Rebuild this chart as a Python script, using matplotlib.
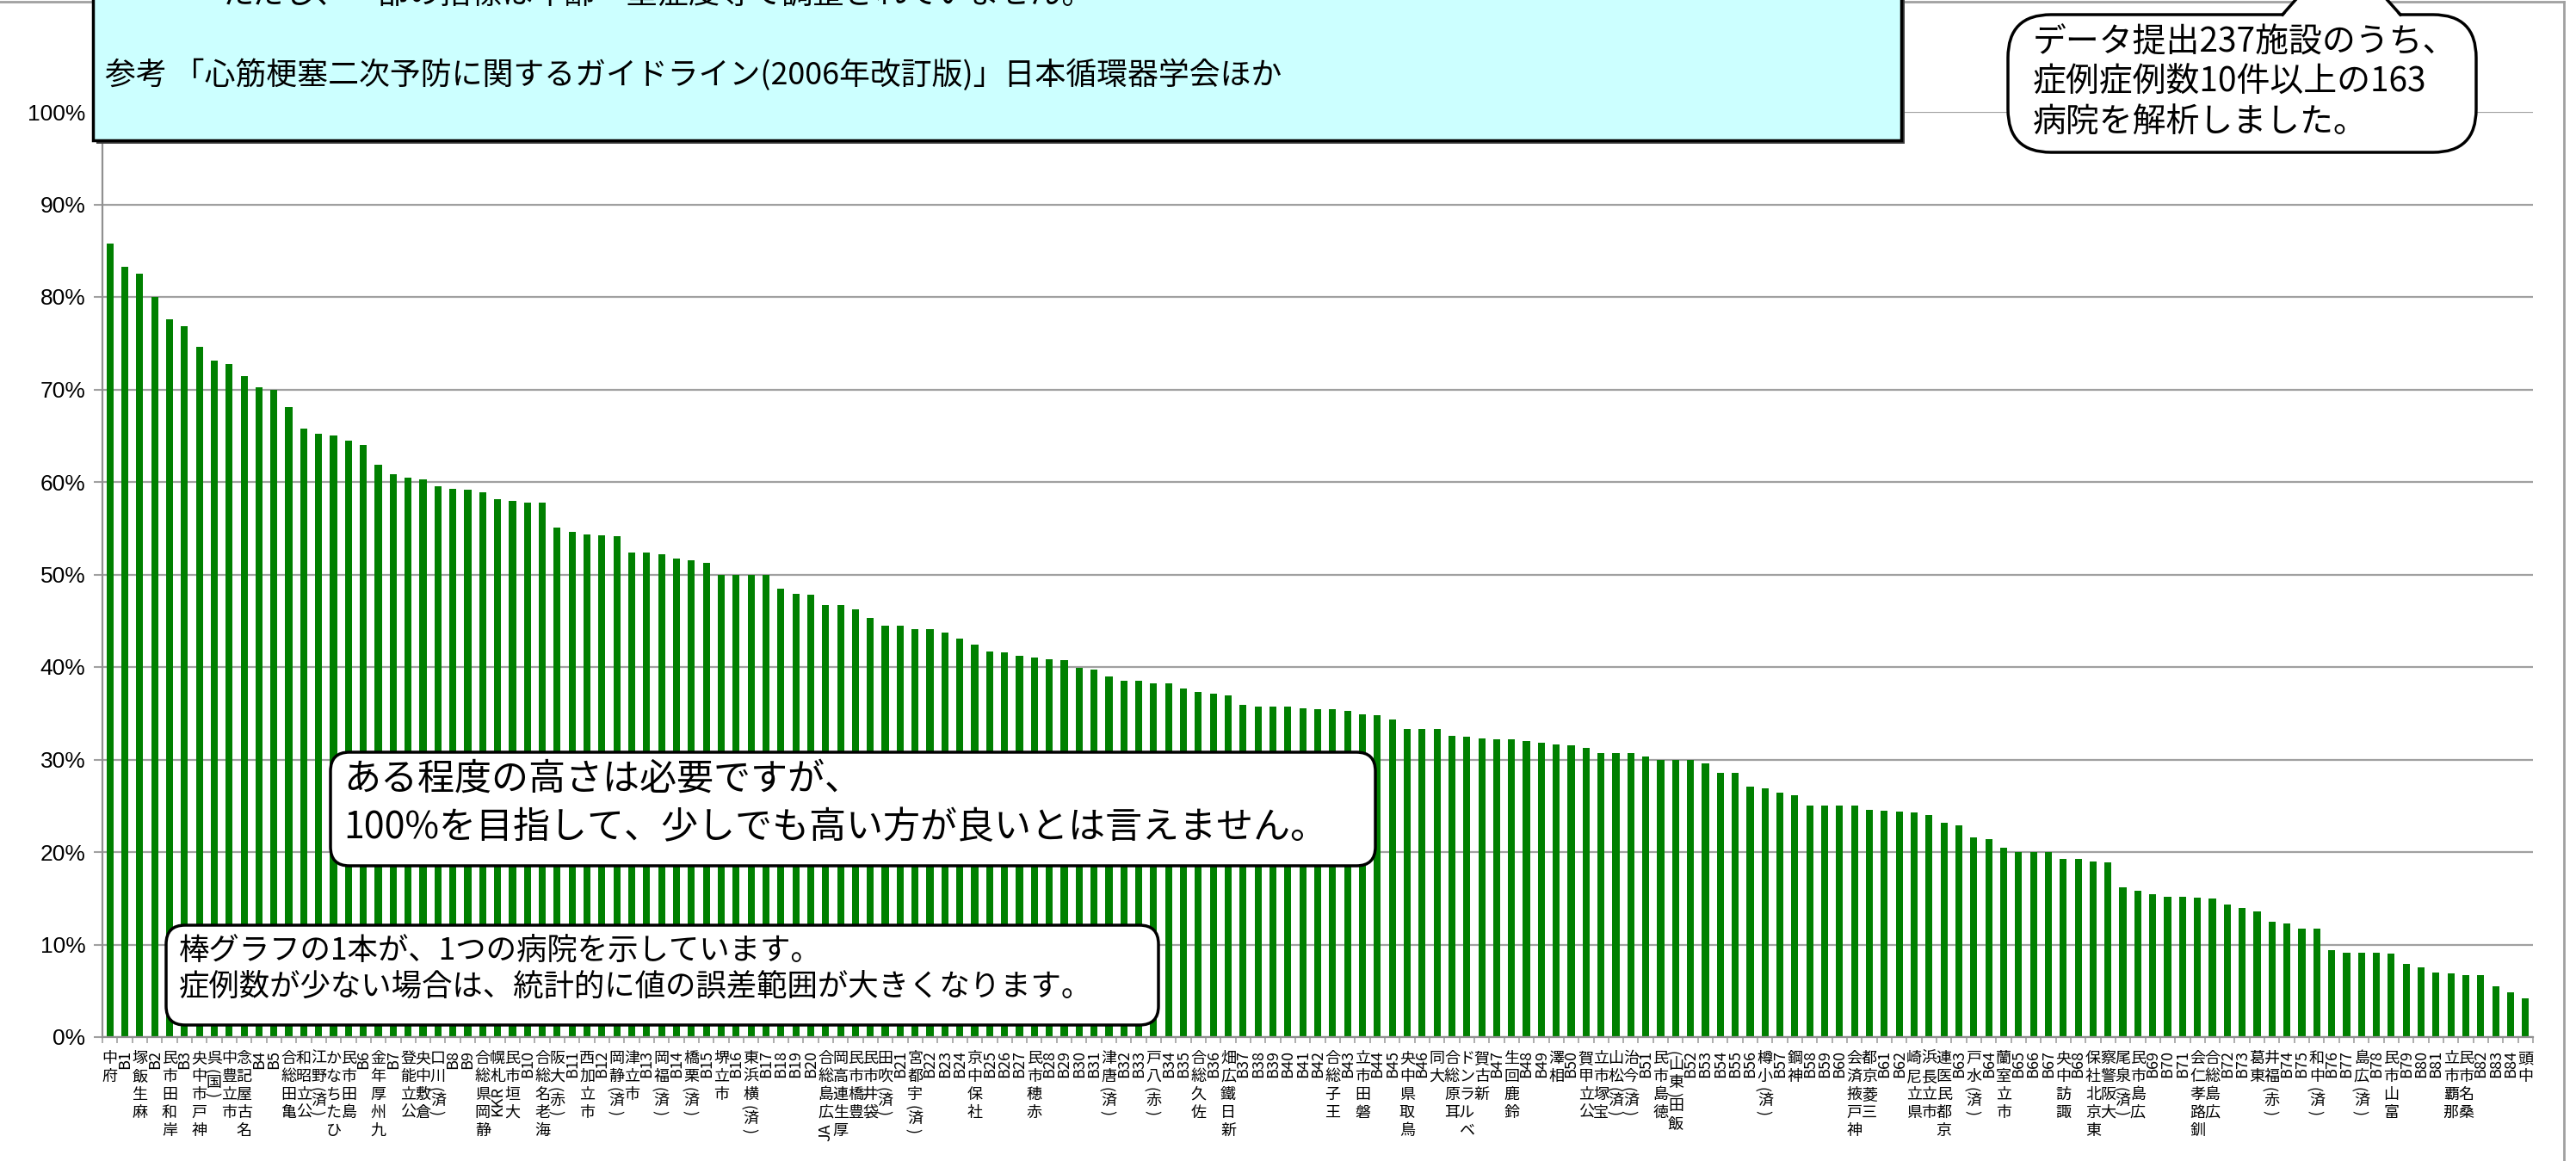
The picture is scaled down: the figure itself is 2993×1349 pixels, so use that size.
import matplotlib

matplotlib.use("Agg")
import matplotlib.pyplot as plt
import numpy as np
from matplotlib.lines import Line2D
from matplotlib.patches import FancyBboxPatch, Polygon, Rectangle
from matplotlib.transforms import IdentityTransform, offset_copy

plt.rcParams["font.family"] = ["Noto Sans CJK JP", "DejaVu Sans"]

# --- data ------------------------------------------------------------------
hospitals = [
    "府中", "B1", "麻生飯塚", "B2", "岸和田市民", "B3", "神戸市中央", "(国)呉", "市立豊中", "名古屋記念",
    "B4", "B5", "亀田総合", "公立昭和", "(済)野江", "ひたちなか", "島田市民", "B6", "九州厚年金", "B7",
    "公立能登", "倉敷中央", "(済)川口", "B8", "B9", "静岡県総合", "KKR札幌", "大垣市民", "B10", "海老名総合",
    "(赤)大阪", "B11", "市立加西", "B12", "(済)静岡", "市立津", "B13", "(済)福岡", "B14", "(済)栗橋",
    "B15", "市立堺", "B16", "(済)横浜東", "B17", "B18", "B19", "B20", "JA広島総合", "厚生連高岡",
    "豊橋市民", "袋井市民", "(済)吹田", "B21", "(済)宇都宮", "B22", "B23", "B24", "社保中京", "B25",
    "B26", "B27", "赤穂市民", "B28", "B29", "B30", "B31", "(済)唐津", "B32", "B33",
    "(赤)八戸", "B34", "B35", "佐久総合", "B36", "新日鐵広畑", "B37", "B38", "B39", "B40",
    "B41", "B42", "王子総合", "B43", "磐田市立", "B44", "B45", "鳥取県中央", "B46", "大同",
    "耳原総合", "ベルランド", "新古賀", "B47", "鈴鹿回生", "B48", "B49", "相澤", "B50", "公立甲賀",
    "宝塚市立", "(済)松山", "(済)今治", "B51", "徳島市民", "飯田(東山)", "B52", "B53", "B54", "B55",
    "B56", "(済)小樽", "B57", "神鋼", "B58", "B59", "B60", "神戸掖済会", "三菱京都", "B61",
    "B62", "県立尼崎", "市立長浜", "京都民医連", "B63", "(済)水戸", "B64", "市立室蘭", "B65", "B66",
    "B67", "諏訪中央", "B68", "東京北社保", "大阪警察", "(済)泉尾", "広島市民", "B69", "B70", "B71",
    "釧路孝仁会", "広島総合", "B72", "B73", "東葛", "(赤)福井", "B74", "B75", "(済)中和", "B76",
    "B77", "(済)広島", "B78", "富山市民", "B79", "B80", "B81", "那覇市立", "桑名市民", "B82",
    "B83", "B84", "中頭",
]

rates = [
    85.8, 83.3, 82.5, 80.0, 77.6, 76.8, 74.6, 73.1, 72.7, 71.4,
    70.2, 70.0, 68.1, 65.8, 65.2, 65.0, 64.5, 64.0, 61.9, 60.8,
    60.5, 60.3, 59.5, 59.3, 59.2, 58.9, 58.1, 58.0, 57.8, 57.8,
    55.1, 54.6, 54.3, 54.2, 54.1, 52.4, 52.4, 52.2, 51.7, 51.5,
    51.3, 50.0, 50.0, 50.0, 50.0, 48.5, 47.9, 47.8, 46.7, 46.7,
    46.2, 45.3, 44.5, 44.5, 44.1, 44.1, 43.7, 43.1, 42.4, 41.7,
    41.6, 41.2, 41.0, 40.8, 40.7, 39.9, 39.7, 39.0, 38.5, 38.5,
    38.2, 38.2, 37.7, 37.3, 37.1, 36.9, 35.9, 35.7, 35.7, 35.7,
    35.5, 35.4, 35.4, 35.3, 34.9, 34.8, 34.3, 33.3, 33.3, 33.3,
    32.6, 32.5, 32.3, 32.2, 32.2, 32.0, 31.8, 31.6, 31.5, 31.3,
    30.7, 30.7, 30.7, 30.3, 30.0, 30.0, 30.0, 29.6, 28.6, 28.6,
    27.1, 26.9, 26.4, 26.1, 25.0, 25.0, 25.0, 25.0, 24.6, 24.5,
    24.4, 24.3, 24.0, 23.2, 22.9, 21.6, 21.4, 20.5, 20.0, 20.0,
    20.0, 19.3, 19.3, 19.0, 18.9, 16.2, 15.8, 15.4, 15.2, 15.2,
    15.1, 15.0, 14.3, 14.0, 13.6, 12.5, 12.3, 11.7, 11.7, 9.4,
    9.1, 9.1, 9.1, 9.0, 7.9, 7.5, 7.0, 6.9, 6.7, 6.7,
    5.5, 4.8, 4.2,
]

y_ticks = list(range(0, 101, 10))

cut_note = "ただし、一部の指標は年齢・重症度等で調整されていません。"
ref_note = "参考 「心筋梗塞二次予防に関するガイドライン(2006年改訂版)」日本循環器学会ほか"
bubble_lines = ["データ提出237施設のうち、", "症例症例数10件以上の163", "病院を解析しました。"]
mid_lines = ["ある程度の高さは必要ですが、", "100%を目指して、少しでも高い方が良いとは言えません。"]
low_lines = ["棒グラフの1本が、1つの病院を示しています。", "症例数が少ない場合は、統計的に値の誤差範囲が大きくなります。"]

# --- figure ----------------------------------------------------------------
W, H = 2993, 1349
GREEN = "#008000"
GRID = "#a0a0a0"
PIX = IdentityTransform()

fig = plt.figure(figsize=(W / 100, H / 100), dpi=100)
ax = fig.add_axes([119 / W, 1 - 1205 / H, (2943 - 119) / W, (1205 - 130) / H])

pos = np.arange(len(rates))
ax.bar(pos, rates, width=0.47, color=GREEN, zorder=2)
ax.set_xlim(-0.5, len(rates) - 0.5)
ax.set_ylim(0, 100)
ax.set_yticks(y_ticks)
ax.set_yticklabels([f"{v}%" for v in y_ticks], fontsize=19, family="Liberation Sans")
ax.tick_params(axis="y", length=7, width=1.5, color=GRID, pad=7)
ax.set_xticks(np.arange(-0.5, len(rates), 1))
ax.set_xticklabels([])
ax.tick_params(axis="x", length=5, width=1.2, color=GRID)
ax.grid(axis="y", color=GRID, lw=1.6)
ax.set_axisbelow(True)
for side in ("top", "right"):
    ax.spines[side].set_visible(False)
for side in ("left", "bottom"):
    ax.spines[side].set_color("#909090")
    ax.spines[side].set_linewidth(1.6)


def char_w(ch):
    if ch.isdigit():
        return 0.56
    if ch in "()":
        return 0.36
    if ch.isupper():
        return 0.66
    return 0.5


def vertical_label(i, text, fs=13, top=10.5, step=1.16):
    # full-width glyphs stay upright, half-width runs are turned; read bottom to top
    runs = []
    for ch in text:
        wide = ord(ch) > 0x2E80
        if runs and not wide and not runs[-1][1]:
            runs[-1][0] += ch
        else:
            runs.append([ch, wide])
    base = ax.get_xaxis_transform()
    y = top
    for chunk, wide in reversed(runs):
        h = fs * step if wide else fs * sum(char_w(c) for c in chunk)
        tr = offset_copy(base, fig=fig, y=-(y + h / 2), units="points")
        ax.text(i, 0, chunk, transform=tr, ha="center", va="center", fontsize=fs,
                rotation=0 if wide else 90, clip_on=False)
        y += h


for i, name in enumerate(hospitals):
    vertical_label(i, name)


# --- notes (pixel coordinates, origin top-left) ----------------------------
def P(x, y):
    return (x, H - y)


def note_text(x, y, s, size):
    fig.text(*P(x, y), s, transform=PIX, ha="left", va="center", fontsize=size, zorder=6)


# reference box at the top
fig.add_artist(Rectangle(P(112, 167), 2209 - 108, 230, transform=PIX, fc="#404040", ec="none", zorder=4))
fig.add_artist(Rectangle(P(108, 163), 2209 - 108, 230, transform=PIX, fc="#CCFFFF", ec="black", lw=2.5, zorder=5))
note_text(258, -6, cut_note, 26)
note_text(122, 87, ref_note, 25.8)

# speech bubble, top right
fig.add_artist(FancyBboxPatch(P(2333, 177), 2877 - 2333, 160, transform=PIX,
                              boxstyle="round,pad=0,rounding_size=50", fc="white", ec="black", lw=2.5, zorder=5))
fig.add_artist(Polygon([P(2652, 20), P(2720, -60), P(2789, 20)], closed=True, transform=PIX,
                       fc="white", ec="none", zorder=5))
fig.add_artist(Line2D([P(2652, 17)[0], P(2720, -60)[0]], [P(2652, 17)[1], P(2720, -60)[1]],
                      transform=PIX, color="black", lw=2.5, zorder=5))
fig.add_artist(Line2D([P(2789, 17)[0], P(2720, -60)[0]], [P(2789, 17)[1], P(2720, -60)[1]],
                      transform=PIX, color="black", lw=2.5, zorder=5))
for k, line in enumerate(bubble_lines):
    note_text(2362, 50 + 46 * k, line, 28)

# middle callout
fig.add_artist(FancyBboxPatch(P(384, 1006), 1598 - 384, 1006 - 874, transform=PIX,
                              boxstyle="round,pad=0,rounding_size=22", fc="white", ec="black", lw=2.5, zorder=5))
for k, line in enumerate(mid_lines):
    note_text(399, 906 + 56 * k, line, 31)

# lower callout
fig.add_artist(FancyBboxPatch(P(193, 1191), 1346 - 193, 1191 - 1075, transform=PIX,
                              boxstyle="round,pad=0,rounding_size=22", fc="white", ec="black", lw=2.5, zorder=5))
for k, line in enumerate(low_lines):
    note_text(208, 1105 + 42 * k, line, 25.5)

# chart area border (top and right)
fig.add_artist(Line2D([0, 2979], [H - 2, H - 2], transform=PIX, color=GRID, lw=2))
fig.add_artist(Line2D([2979, 2979], [H - 2, 0], transform=PIX, color=GRID, lw=2))

fig.savefig("out.png", dpi=100)
